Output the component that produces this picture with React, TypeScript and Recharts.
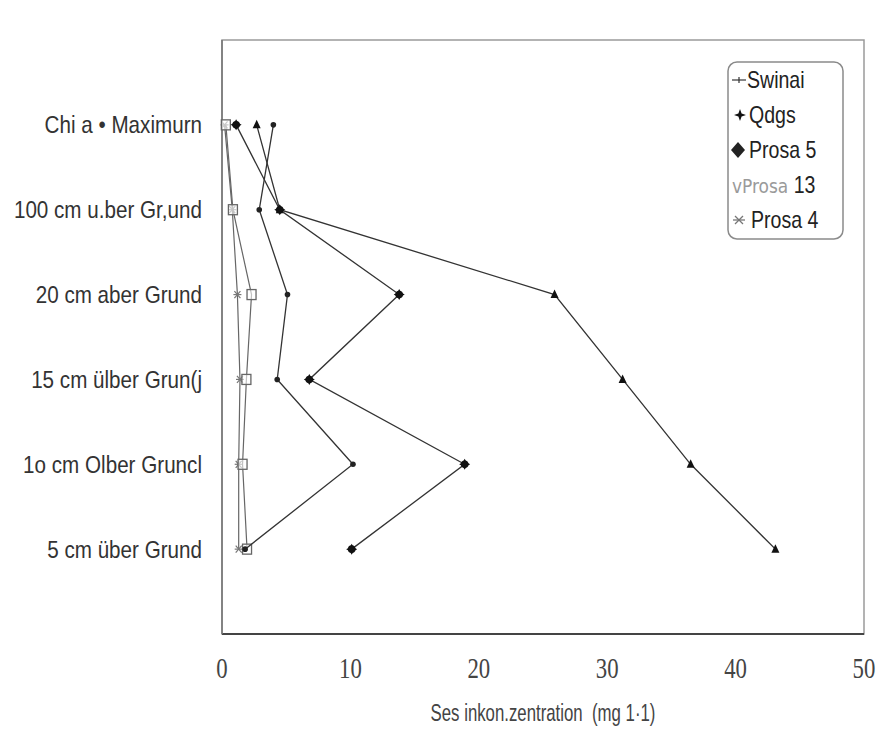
import React from 'react';
import { ScatterChart, Scatter, XAxis, YAxis, ReferenceArea, Legend } from 'recharts';

const categories = [
  'Chi a • Maximurn',
  '100 cm u.ber Gr,und',
  '20 cm aber Grund',
  '15 cm ülber Grun(j',
  '1o cm Olber Gruncl',
  '5 cm über Grund',
];
const seriesNames = ['Swinai', 'Qdgs', 'Prosa 5', 'Prosa 13', 'Prosa 4'];
const swinai = [4.0, 2.9, 5.1, 4.3, 10.2, 1.8];
const qdgs = [1.1, 4.5, 13.8, 6.8, 18.9, 10.1];
const prosa5 = [0.3, 0.85, 2.3, 1.9, 1.6, 1.95];
const prosa13 = [2.7, 4.5, 25.9, 31.2, 36.5, 43.1];
const prosa4 = [0.2, 0.8, 1.2, 1.4, 1.3, 1.3];
const xTicks = [0, 10, 20, 30, 40, 50];
const xTitle = 'Ses inkon.zentration  (mg 1·1)';

const catPositions = categories.map((_, i) => i + 1);
const toPoints = (vals: number[]) => vals.map((v, i) => ({ x: v, y: catPositions[i] }));

const SANS = '"Liberation Sans", Arial, sans-serif';
const SERIF = '"Liberation Serif", "Times New Roman", serif';

const SmallDot = (p: any) => <circle cx={p.cx} cy={p.cy} r={2.8} fill="#222" />;
const BigDot = (p: any) => {
  const { cx, cy } = p;
  const r = 5.5, k = 2;
  const d = `M${cx},${cy - r} L${cx + k},${cy - k} L${cx + r},${cy} L${cx + k},${cy + k} L${cx},${cy + r} L${cx - k},${cy + k} L${cx - r},${cy} L${cx - k},${cy - k} Z`;
  return (
    <g>
      <circle cx={cx} cy={cy} r={3.8} fill="#111" />
      <path d={d} fill="#111" />
    </g>
  );
};
const Square = (p: any) => (
  <rect x={p.cx - 4.5} y={p.cy - 5} width={9} height={10} fill="#fff" fillOpacity={0.6} stroke="#666" strokeWidth={1.3} />
);
const Triangle = (p: any) => (
  <path d={`M${p.cx},${p.cy - 5} L${p.cx + 4},${p.cy + 3.5} L${p.cx - 4},${p.cy + 3.5} Z`} fill="#111" />
);
const Asterisk = (p: any) => {
  const { cx, cy } = p;
  const r = 4;
  return (
    <g stroke="#777" strokeWidth={1.2}>
      <line x1={cx - r} y1={cy} x2={cx + r} y2={cy} />
      <line x1={cx - 3} y1={cy - 3.5} x2={cx + 3} y2={cy + 3.5} />
      <line x1={cx + 3} y1={cy - 3.5} x2={cx - 3} y2={cy + 3.5} />
    </g>
  );
};

const YTick = (props: any) => {
  const { x, y, payload } = props;
  const label = categories[payload.value - 1] ?? '';
  return (
    <text
      transform={`translate(${x},${y}) scale(0.86,1)`}
      textAnchor="end"
      dy="0.35em"
      fontFamily={SANS}
      fontSize={24}
      fill="#333"
      style={{ whiteSpace: 'pre' }}
    >
      {label}
    </text>
  );
};

const XTick = (props: any) => {
  const { x, y, payload } = props;
  return (
    <text
      transform={`translate(${x},${y}) scale(0.76,1)`}
      textAnchor="middle"
      dy="0.35em"
      fontFamily={SERIF}
      fontSize={30}
      fill="#444"
    >
      {payload.value}
    </text>
  );
};

const XTitle = (props: any) => {
  const vb = props.viewBox || {};
  return (
    <text
      transform={`translate(${vb.x + vb.width / 2},${vb.y + 79}) scale(0.7,1)`}
      textAnchor="middle"
      dy="0.35em"
      fontFamily={SANS}
      fontSize={24}
      fill="#444"
      style={{ whiteSpace: 'pre' }}
    >
      {xTitle}
    </text>
  );
};

const LegendIcon = ({ i, y }: { i: number; y: number }) => {
  if (i === 0) {
    return (
      <g stroke="#333" strokeWidth={1.2}>
        <line x1={5} y1={y} x2={19} y2={y} />
        <line x1={12} y1={y - 3} x2={12} y2={y + 3} />
      </g>
    );
  }
  if (i === 1) {
    const cx = 13, r = 6, k = 1.6;
    return (
      <path
        d={`M${cx},${y - r} L${cx + k},${y - k} L${cx + r},${y} L${cx + k},${y + k} L${cx},${y + r} L${cx - k},${y + k} L${cx - r},${y} L${cx - k},${y - k} Z`}
        fill="#111"
      />
    );
  }
  if (i === 2) {
    return <path d={`M11,${y - 8} L18,${y} L11,${y + 8} L4,${y} Z`} fill="#222" />;
  }
  if (i === 4) {
    const cx = 12;
    return (
      <g stroke="#777" strokeWidth={1.3}>
        <line x1={cx - 6} y1={y} x2={cx + 6} y2={y} />
        <line x1={cx - 4} y1={y - 4} x2={cx + 4} y2={y + 4} />
        <line x1={cx + 4} y1={y - 4} x2={cx - 4} y2={y + 4} />
      </g>
    );
  }
  return null;
};

const renderLegend = () => (
  <svg width={118} height={180} style={{ display: 'block' }}>
    <rect x={1} y={1} width={115} height={177} rx={9} ry={9} fill="#fff" stroke="#8a8a8a" strokeWidth={1.5} />
    {seriesNames.map((name, i) => {
      const y = 19 + i * 35;
      const tx = i === 0 ? 20 : i === 3 ? 5 : i === 4 ? 24 : 22;
      return (
        <g key={name}>
          <LegendIcon i={i} y={y} />
          <text
            transform={`translate(${tx},${y}) scale(0.85,1)`}
            dy="0.35em"
            fontFamily={SANS}
            fontSize={23}
            fill="#222"
          >
            {i === 3 ? (
              <>
                <tspan fill="#9a9a9a" fontFamily='"DejaVu Sans", Verdana, sans-serif' fontSize={20}>
                  {'v' + name.split(' ')[0]}
                </tspan>
                <tspan> {name.split(' ')[1]}</tspan>
              </>
            ) : (
              name
            )}
          </text>
        </g>
      );
    })}
  </svg>
);

export default function App() {
  const lineDark = { stroke: '#333', strokeWidth: 1.3 };
  const lineGrey = { stroke: '#666', strokeWidth: 1.2 };
  return (
    <div style={{ position: 'absolute', left: 0, top: 0, width: 876, height: 733, background: '#fff' }}>
      <ScatterChart width={876} height={733} margin={{ top: 40, right: 12, bottom: 39, left: 0 }}>
        <ReferenceArea x1={0} x2={50} y1={0} y2={7} fill="none" stroke="#9a9a9a" strokeWidth={1.5} />
        <XAxis
          type="number"
          dataKey="x"
          domain={[0, 50]}
          ticks={xTicks}
          interval={0}
          tickLine={false}
          tickSize={0}
          tickMargin={33}
          height={60}
          axisLine={{ stroke: '#444', strokeWidth: 2.2 }}
          tick={XTick}
          label={<XTitle />}
        />
        <YAxis
          type="number"
          dataKey="y"
          domain={[0, 7]}
          ticks={catPositions}
          interval={0}
          reversed
          tickLine={false}
          tickSize={0}
          tickMargin={20}
          width={222}
          axisLine={{ stroke: '#777', strokeWidth: 1.6 }}
          tick={YTick}
        />
        <Legend
          layout="vertical"
          align="center"
          verticalAlign="middle"
          content={renderLegend}
          wrapperStyle={{ position: 'absolute', left: 727, top: 61, width: 118, height: 180 }}
        />
        <Scatter name="Prosa 4" data={toPoints(prosa4)} line={lineGrey} shape={Asterisk} isAnimationActive={false} />
        <Scatter name="Prosa 5" data={toPoints(prosa5)} line={lineGrey} shape={Square} isAnimationActive={false} />
        <Scatter name="Swinai" data={toPoints(swinai)} line={lineDark} shape={SmallDot} isAnimationActive={false} />
        <Scatter name="Prosa 13" data={toPoints(prosa13)} line={lineDark} shape={Triangle} isAnimationActive={false} />
        <Scatter name="Qdgs" data={toPoints(qdgs)} line={lineDark} shape={BigDot} isAnimationActive={false} />
      </ScatterChart>
    </div>
  );
}
